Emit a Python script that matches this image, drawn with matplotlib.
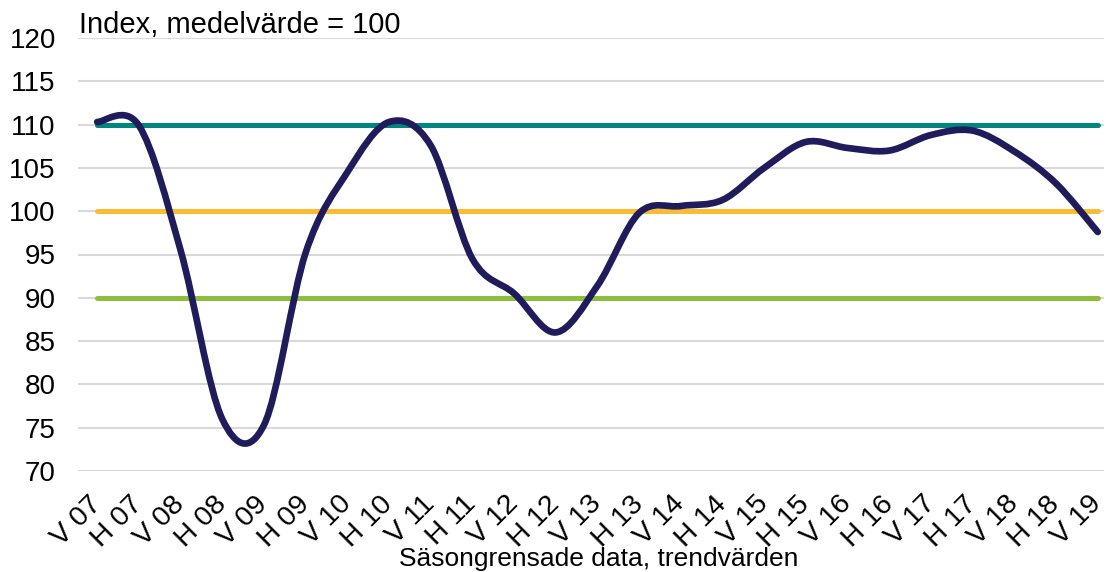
import matplotlib
matplotlib.use("Agg")
import matplotlib.pyplot as plt
from matplotlib.path import Path
from matplotlib.patches import PathPatch
import numpy as np

plt.rcParams['font.family'] = ['Liberation Sans', 'DejaVu Sans']

# Halvår, våren (V) och hösten (H)
periods = ["V 07", "H 07", "V 08", "H 08", "V 09", "H 09", "V 10", "H 10",
           "V 11", "H 11", "V 12", "H 12", "V 13", "H 13", "V 14", "H 14",
           "V 15", "H 15", "V 16", "H 16", "V 17", "H 17", "V 18", "H 18", "V 19"]
index_values = [110.3, 109.9, 95.5, 76.0, 75.3, 95.2, 104.5, 110.3,
                107.6, 94.5, 90.5, 86.0, 91.4, 99.8, 100.6, 101.3,
                105.0, 108.0, 107.3, 107.0, 108.8, 109.3, 106.9, 103.2, 97.6]
ref_levels = [110, 100, 90]
ref_colors = ["#00857f", "#fbbc33", "#8dbf3e"]

fig = plt.figure(figsize=(11.06, 5.72), dpi=100)
ax = fig.add_axes([78 / 1106, 1 - 471 / 572, (1104 - 78) / 1106, (471 - 38) / 572])

x = np.arange(len(periods))
y = np.array(index_values)

# reference levels
for lvl, col in zip(ref_levels, ref_colors):
    ax.plot([x[0], x[-1]], [lvl, lvl], color=col, lw=3.6, solid_capstyle="round", zorder=2)

# smoothed line like Excel: cubic bezier segments
pts = np.column_stack([x, y])
verts = [pts[0]]
codes = [Path.MOVETO]
n = len(pts)
for i in range(n - 1):
    p0 = pts[i - 1] if i > 0 else pts[i]
    p1 = pts[i]
    p2 = pts[i + 1]
    p3 = pts[i + 2] if i + 2 < n else pts[i + 1]
    c1 = p1 + (p2 - p0) / 6
    c2 = p2 - (p3 - p1) / 6
    verts += [c1, c2, p2]
    codes += [Path.CURVE4] * 3
patch = PathPatch(Path(verts, codes), fill=False, edgecolor="#201c5c", lw=4.8,
                  capstyle="round", joinstyle="round", zorder=3)
ax.add_patch(patch)

ax.set_xlim(-0.46, 24.15)
ax.set_ylim(70, 120)
ax.set_yticks(range(70, 121, 5))
ax.set_xticks(x)
ax.set_xticklabels(periods, rotation=45, ha="right", va="center", rotation_mode="anchor")
ax.tick_params(axis="y", length=0, labelsize=20, pad=16)
ax.tick_params(axis="x", length=0, labelsize=20.5, pad=21)
ax.grid(axis="y", color="#d9d9d9", lw=1.5)
ax.set_axisbelow(True)
for s in ax.spines.values():
    s.set_visible(False)

fig.text(79 / 1106, 1 - 33 / 572, "Index, medelvärde = 100", fontsize=21, va="baseline")
fig.text(599 / 1106, 1 - 547 / 572, "Säsongrensade data, trendvärden", fontsize=19,
         ha="center", va="top")

fig.savefig("out.png", dpi=100)
